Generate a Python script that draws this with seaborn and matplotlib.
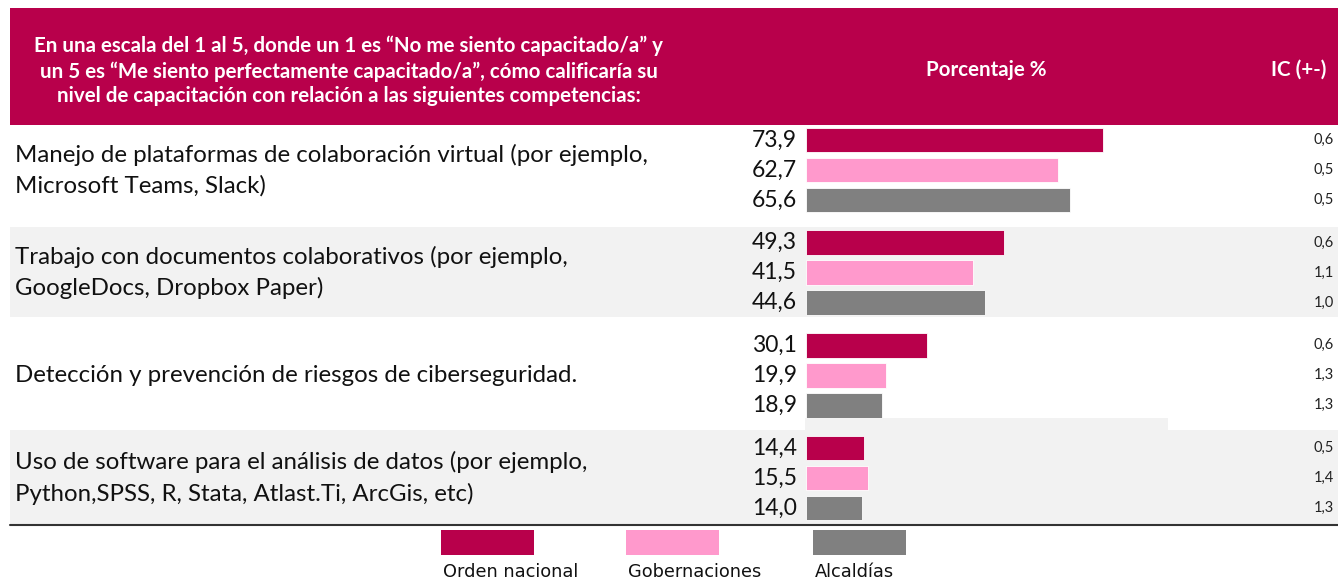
"""
capacitacion recreates the horizontal bar table chart of self-rated skills
"""

import matplotlib.pyplot as plt
import pandas as pd
import seaborn as sns
from matplotlib.patches import Rectangle
from matplotlib.transforms import blended_transform_factory

# data
categories = [
    "Manejo de plataformas de colaboración virtual (por ejemplo,\nMicrosoft Teams, Slack)",
    "Trabajo con documentos colaborativos (por ejemplo,\nGoogleDocs, Dropbox Paper)",
    "Detección y prevención de riesgos de ciberseguridad.",
    "Uso de software para el análisis de datos (por ejemplo,\nPython,SPSS, R, Stata, Atlast.Ti, ArcGis, etc)",
]
series = ["Orden nacional", "Gobernaciones", "Alcaldías"]
orden_nacional = [73.9, 49.3, 30.1, 14.4]
gobernaciones = [62.7, 41.5, 19.9, 15.5]
alcaldias = [65.6, 44.6, 18.9, 14.0]
ic_orden_nacional = [0.6, 0.6, 0.6, 0.5]
ic_gobernaciones = [0.5, 1.1, 1.3, 1.4]
ic_alcaldias = [0.5, 1.0, 1.3, 1.3]

header_question = (
    "En una escala del 1 al 5, donde un 1 es “No me siento capacitado/a” y\n"
    "un 5 es “Me siento perfectamente capacitado/a”, cómo calificaría su\n"
    "nivel de capacitación con relación a las siguientes competencias:"
)
header_pct = "Porcentaje %"
header_ic = "IC (+-)"

colors = ["#B8004B", "#FF99CC", "#808080"]

# long table for seaborn
df = pd.DataFrame(
    {
        "Competencia": categories * 3,
        "Grupo": [s for s in series for _ in categories],
        "Valor": orden_nacional + gobernaciones + alcaldias,
        "IC": ic_orden_nacional + ic_gobernaciones + ic_alcaldias,
    }
)

sns.set_style("white")
plt.rcParams["font.family"] = ["Lato", "DejaVu Sans"]

W, H = 1338, 580
fig = plt.figure(figsize=(W / 100, H / 100), dpi=100)
ax = fig.add_axes([0, 0, 1, 1])


# pixel helpers (axes spans the whole figure)
def fx(px):
    return px / W


def fy(py):
    return 1 - py / H


# row backgrounds
for top, bottom in [(227, 317), (430, 525)]:
    ax.add_patch(
        Rectangle((fx(10), fy(bottom)), fx(W) - fx(10), fy(top) - fy(bottom),
                  transform=ax.transAxes, color="#F2F2F2", lw=0, zorder=0)
    )
ax.add_patch(
    Rectangle((fx(805), fy(430)), fx(1168) - fx(805), fy(418) - fy(430),
              transform=ax.transAxes, color="#F2F2F2", lw=0, zorder=0)
)

# header band
ax.add_patch(
    Rectangle((fx(10), fy(125)), fx(W) - fx(10), fy(8) - fy(125),
              transform=ax.transAxes, color="#B8004B", lw=0, zorder=0)
)
ax.text(fx(349), fy(71), header_question, transform=ax.transAxes, ha="center",
        va="center", color="white", fontsize=14.8, fontweight="bold",
        linespacing=1.3)
ax.text(fx(986), fy(70), header_pct, transform=ax.transAxes, ha="center",
        va="center", color="white", fontsize=14.8, fontweight="bold")
ax.text(fx(1326), fy(70), header_ic, transform=ax.transAxes, ha="right",
        va="center", color="white", fontsize=14.8, fontweight="bold")

# bars
sns.barplot(
    data=df, x="Valor", y="Competencia", hue="Grupo", palette=colors,
    orient="h", width=0.876, gap=0.17, ax=ax, legend=False, saturation=1,
    edgecolor="white", linewidth=0.6, zorder=2,
)

# scale: bar origin at pixel 806, 4.02 px per unit; rows 102.67 px apart
px_per_unit = 4.02
ax.set_xlim(-806 / px_per_unit, (W - 806) / px_per_unit)
pitch = 102.67
ax.set_ylim((H - 170) / pitch, -170 / pitch)
ax.axis("off")

# value labels and IC labels
slot = 0.876 / 3
ic_trans = blended_transform_factory(ax.transAxes, ax.transData)
for j, (vals, ics) in enumerate(
    [(orden_nacional, ic_orden_nacional), (gobernaciones, ic_gobernaciones),
     (alcaldias, ic_alcaldias)]
):
    for i, (v, ic) in enumerate(zip(vals, ics)):
        y = i + (j - 1) * slot
        ax.text(-2.2, y, f"{v:.1f}".replace(".", ","), ha="right",
                va="center", fontsize=16.5, color="#111111")
        ax.text(fx(1334), y, f"{ic:.1f}".replace(".", ","), ha="right",
                va="center", fontsize=10.5, color="#222222",
                transform=ic_trans)

# category labels
for i, cat in enumerate(categories):
    ax.text(fx(15), i, cat, transform=ic_trans, ha="left", va="center",
            fontsize=17.3, linespacing=1.5, color="#111111")

# bottom rule
ax.plot([fx(10), 1], [fy(525), fy(525)], transform=ax.transAxes,
        color="#333333", lw=1.5)

# legend: swatch above label
for name, col, left in zip(series, colors, [441, 626, 813]):
    ax.add_patch(
        Rectangle((fx(left), fy(555)), fx(93), fy(530) - fy(555),
                  transform=ax.transAxes, color=col, lw=0)
    )
    ax.text(fx(left + 2), fy(572), name, transform=ax.transAxes, ha="left",
            va="center", fontsize=12.8, family=["DejaVu Sans"],
            color="#111111")

fig.savefig("out.png", dpi=100)
